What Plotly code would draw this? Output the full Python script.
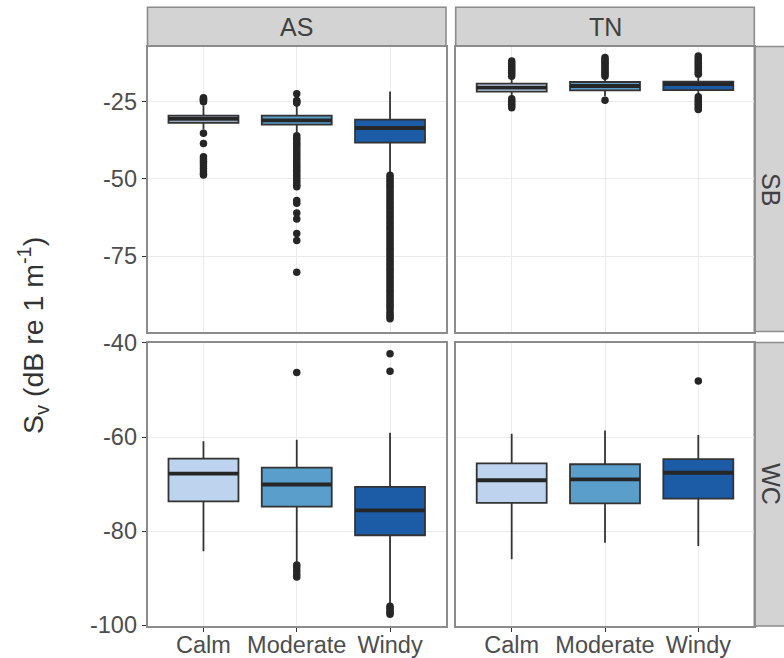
import plotly.graph_objects as go

# ---- data -------------------------------------------------------------
categories = ["Calm", "Moderate", "Windy"]
sites = ["AS", "TN"]
layers = ["SB", "WC"]
fill_colors = ["#BDD3EE", "#5A9FCC", "#1C5BA6"]

# Box statistics per layer / site, ordered Calm, Moderate, Windy
sb_as_q1 = [-31.8, -32.4, -38.2]
sb_as_median = [-30.5, -31.0, -33.5]
sb_as_q3 = [-29.5, -29.5, -30.8]
sb_as_low = [-34.0, -35.0, -48.1]
sb_as_high = [-26.2, -26.4, -21.7]

sb_tn_q1 = [-21.7, -21.3, -21.2]
sb_tn_median = [-20.4, -19.9, -19.3]
sb_tn_q3 = [-19.1, -18.6, -18.5]
sb_tn_low = [-23.2, -23.2, -22.8]
sb_tn_high = [-17.5, -17.5, -17.2]

wc_as_q1 = [-73.7, -74.8, -80.9]
wc_as_median = [-67.8, -70.1, -75.6]
wc_as_q3 = [-64.6, -66.5, -70.6]
wc_as_low = [-84.3, -86.7, -95.6]
wc_as_high = [-60.9, -60.6, -59.1]

wc_tn_q1 = [-74.0, -74.1, -73.1]
wc_tn_median = [-69.2, -69.0, -67.6]
wc_tn_q3 = [-65.6, -65.8, -64.7]
wc_tn_low = [-86.0, -82.5, -83.2]
wc_tn_high = [-59.3, -58.6, -59.6]

# Outlying observations
sb_as_out_calm = [-25.0, -24.6, -24.3, -24.0, -23.7, -35.2, -38.5, -42.8, -43.5,
                  -44.3, -45.0, -45.8, -46.6, -47.4, -48.2, -48.7]
sb_as_out_moderate = [-22.4, -24.6, -25.0, -25.4, -36.0, -36.8, -37.6, -38.4, -39.2,
                      -40.0, -40.8, -41.6, -42.4, -43.2, -44.0, -44.8, -45.6, -46.4,
                      -47.2, -48.0, -48.8, -49.6, -50.4, -51.2, -52.0, -52.5, -57.0,
                      -57.9, -61.0, -63.0, -67.7, -69.9, -80.2]
sb_as_out_windy = [-48.8, -49.6, -50.4, -51.2, -52.0, -52.8, -53.6, -54.4, -55.2,
                   -56.0, -56.8, -57.6, -58.4, -59.2, -60.0, -60.8, -61.6, -62.4,
                   -63.2, -64.0, -64.8, -65.6, -66.4, -67.2, -68.0, -68.8, -69.6,
                   -70.4, -71.2, -72.0, -72.8, -73.6, -74.4, -75.2, -76.0, -76.8,
                   -77.6, -78.4, -79.2, -80.0, -80.8, -81.6, -82.4, -83.2, -84.0,
                   -84.8, -85.6, -86.4, -87.2, -88.0, -88.8, -89.6, -90.4, -91.2,
                   -92.0, -93.0, -93.8, -94.6, -95.3]
sb_tn_out_calm = [-11.8, -12.4, -13.0, -13.6, -14.2, -14.8, -15.4, -16.0, -16.7,
                  -24.0, -24.6, -25.2, -25.8, -26.4, -26.9]
sb_tn_out_moderate = [-10.7, -11.3, -11.9, -12.5, -13.1, -13.7, -14.3, -14.9, -15.5,
                      -16.1, -16.7, -24.5]
sb_tn_out_windy = [-10.2, -10.8, -11.4, -12.0, -12.6, -13.2, -13.8, -14.4, -15.0,
                   -15.6, -16.1, -23.4, -24.0, -24.6, -25.2, -25.8, -26.4, -27.0,
                   -27.5]
wc_as_out_calm = []
wc_as_out_moderate = [-46.3, -87.2, -87.8, -88.5, -89.2, -89.8]
wc_as_out_windy = [-42.3, -46.0, -96.0, -96.4, -96.9, -97.3, -97.7]
wc_tn_out_calm = []
wc_tn_out_moderate = []
wc_tn_out_windy = [-48.1]

sb_range = [-99.4, -7.1]
wc_range = [-100.2, -39.9]
sb_ticks = [-25, -50, -75]
sb_tick_labels = ["-25", "-50", "-75"]
wc_ticks = [-40, -60, -80, -100]
wc_tick_labels = ["-40", "-60", "-80", "-100"]

y_title = "S<sub>v</sub> (dB re 1 m<sup>-1</sup>)"

# ---- geometry helpers ------------------------------------------------------
W, H = 784, 658


def px_x(p):
    return p / W


def px_y(p):
    return 1 - p / H


FONT = "Liberation Sans, Arial, sans-serif"
TEXT_GREY = "#4D4D4D"
BORDER = "#8C8C8C"
GRID = "#EBEBEB"
BOX_LINE = "#333333"
MEDIAN_LINE = "#262626"
BOX_WIDTH = 0.75

col_px = [(147.5, 446.0), (455.7, 754.3)]
row_px = [(46.5, 331.5), (342.5, 626.0)]

panels = [
    # (row, col, axis suffix, stats, outliers)
    (0, 0, "", (sb_as_q1, sb_as_median, sb_as_q3, sb_as_low, sb_as_high),
     [sb_as_out_calm, sb_as_out_moderate, sb_as_out_windy]),
    (0, 1, "2", (sb_tn_q1, sb_tn_median, sb_tn_q3, sb_tn_low, sb_tn_high),
     [sb_tn_out_calm, sb_tn_out_moderate, sb_tn_out_windy]),
    (1, 0, "3", (wc_as_q1, wc_as_median, wc_as_q3, wc_as_low, wc_as_high),
     [wc_as_out_calm, wc_as_out_moderate, wc_as_out_windy]),
    (1, 1, "4", (wc_tn_q1, wc_tn_median, wc_tn_q3, wc_tn_low, wc_tn_high),
     [wc_tn_out_calm, wc_tn_out_moderate, wc_tn_out_windy]),
]

fig = go.Figure()
layout_axes = {}

for row, col, sfx, stats, outliers in panels:
    q1s, meds, q3s, lows, highs = stats
    xa, ya = "x" + sfx, "y" + sfx
    for i, cat in enumerate(categories):
        fig.add_trace(go.Box(
            x=[i], q1=[q1s[i]], median=[meds[i]], q3=[q3s[i]],
            lowerfence=[lows[i]], upperfence=[highs[i]],
            width=BOX_WIDTH, whiskerwidth=0, boxpoints=False,
            fillcolor=fill_colors[i], line=dict(color=BOX_LINE, width=1.8),
            name=cat, showlegend=False, hoverinfo="skip",
            xaxis=xa, yaxis=ya,
        ))
        # heavier median bar
        fig.add_trace(go.Scatter(
            x=[i - BOX_WIDTH / 2, i + BOX_WIDTH / 2], y=[meds[i], meds[i]],
            mode="lines", line=dict(color=MEDIAN_LINE, width=3.8),
            showlegend=False, hoverinfo="skip", xaxis=xa, yaxis=ya,
        ))
        if outliers[i]:
            fig.add_trace(go.Scatter(
                x=[i] * len(outliers[i]), y=outliers[i], mode="markers",
                marker=dict(color=MEDIAN_LINE, size=7.5, line=dict(width=0)),
                showlegend=False, hoverinfo="skip", xaxis=xa, yaxis=ya,
            ))

    x0, x1 = col_px[col]
    y0, y1 = row_px[row]
    bottom_row = row == 1
    left_col = col == 0
    layout_axes["xaxis" + sfx] = dict(
        domain=[px_x(x0), px_x(x1)], anchor=ya, range=[-0.6, 2.6],
        tickvals=[0, 1, 2], ticktext=categories,
        showticklabels=bottom_row, ticks="outside" if bottom_row else "",
        ticklen=4, tickwidth=1.4, tickcolor=BOX_LINE,
        ticklabelstandoff=-7,
        tickfont=dict(family=FONT, size=23.5, color=TEXT_GREY),
        showgrid=True, gridcolor=GRID, gridwidth=1.4, zeroline=False,
        showline=True, mirror=True, linecolor=BORDER, linewidth=1.6,
        automargin=False,
    )
    layout_axes["yaxis" + sfx] = dict(
        domain=[px_y(y1), px_y(y0)], anchor=xa,
        range=sb_range if row == 0 else wc_range,
        tickvals=sb_ticks if row == 0 else wc_ticks,
        ticktext=sb_tick_labels if row == 0 else wc_tick_labels,
        showticklabels=left_col, ticks="outside" if left_col else "",
        ticklen=4, tickwidth=1.4, tickcolor=BOX_LINE,
        tickfont=dict(family=FONT, size=23.5, color=TEXT_GREY),
        showgrid=True, gridcolor=GRID, gridwidth=1.4, zeroline=False,
        showline=True, mirror=True, linecolor=BORDER, linewidth=1.6,
        automargin=False,
    )

# facet strips
shapes = []
annotations = []
strip_top, strip_bottom = 7.3, 46.0
for (x0, x1), label in zip(col_px, sites):
    shapes.append(dict(type="rect", xref="paper", yref="paper",
                       x0=px_x(x0), x1=px_x(x1), y0=px_y(strip_bottom), y1=px_y(strip_top),
                       fillcolor="#D3D3D3", line=dict(color=BORDER, width=1.6),
                       layer="below"))
    annotations.append(dict(text=label, xref="paper", yref="paper",
                            x=px_x((x0 + x1) / 2), y=px_y((strip_top + strip_bottom) / 2),
                            showarrow=False, xanchor="center", yanchor="middle",
                            font=dict(family=FONT, size=25, color="#404040")))
strip_left, strip_right = 754.3, 793.0
for (y0, y1), label in zip(row_px, layers):
    shapes.append(dict(type="rect", xref="paper", yref="paper",
                       x0=px_x(strip_left), x1=px_x(strip_right), y0=px_y(y1), y1=px_y(y0),
                       fillcolor="#D3D3D3", line=dict(color=BORDER, width=1.6),
                       layer="below"))
    annotations.append(dict(text=label, xref="paper", yref="paper",
                            x=px_x(771), y=px_y((y0 + y1) / 2), textangle=90,
                            showarrow=False, xanchor="center", yanchor="middle",
                            font=dict(family=FONT, size=25, color="#404040")))

annotations.append(dict(text=y_title, xref="paper", yref="paper",
                        x=px_x(33), y=px_y(336), textangle=-90,
                        showarrow=False, xanchor="center", yanchor="middle",
                        font=dict(family=FONT, size=28.5, color="#333333")))

fig.update_layout(
    width=W, height=H,
    margin=dict(l=0, r=0, t=0, b=0, pad=0, autoexpand=False),
    paper_bgcolor="white", plot_bgcolor="white",
    boxmode="overlay", showlegend=False,
    shapes=shapes, annotations=annotations,
    **layout_axes,
)

fig.write_html("out.html")
